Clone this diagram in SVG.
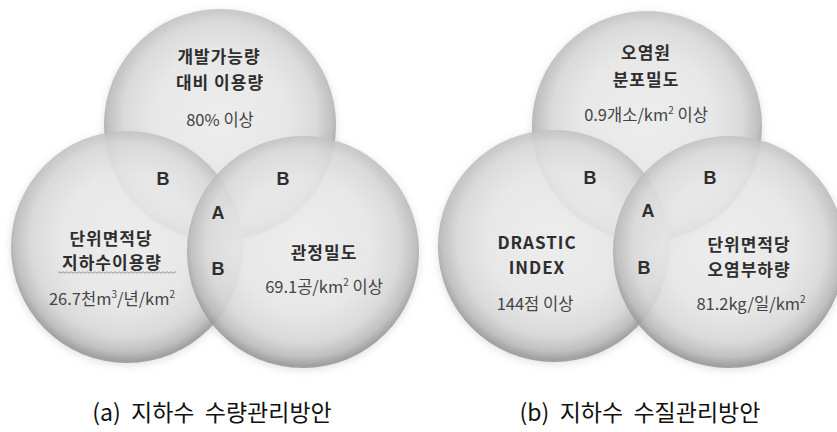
<svg xmlns="http://www.w3.org/2000/svg" width="837" height="432" viewBox="0 0 837 432">
<style>
.lbl{font-family:"Noto Sans CJK KR","Noto Sans",sans-serif;font-weight:bold;font-size:17px;fill:#2e2e2e;text-anchor:middle;letter-spacing:1px}
.val{font-family:"Noto Sans CJK KR","Noto Sans",sans-serif;font-size:16.5px;fill:#444;text-anchor:middle}
.reg{font-family:"Liberation Sans",Arial,sans-serif;font-weight:bold;font-size:18px;fill:#2e2e2e;text-anchor:middle}
.cap{font-family:"Noto Sans CJK KR","Noto Sans",sans-serif;font-size:23px;fill:#111;text-anchor:middle;white-space:pre}
.ball{fill:url(#sphere);opacity:0.86}
.shadow{fill:#999;opacity:0.3;filter:url(#blur)}
</style>
<defs>
<radialGradient id="sphere" cx="50%" cy="47%" r="52%">
<stop offset="0" stop-color="#efefef"/>
<stop offset="0.55" stop-color="#e9e9e9"/>
<stop offset="0.8" stop-color="#d9d9d9"/>
<stop offset="0.93" stop-color="#bbbbbb"/>
<stop offset="1" stop-color="#969696"/>
</radialGradient>
<filter id="blur" x="-20%" y="-20%" width="140%" height="140%"><feGaussianBlur stdDeviation="4"/></filter>
</defs>
<rect width="837" height="432" fill="#fff"/>
<g id="shadows">
<circle class="shadow" cx="220" cy="127" r="116"/>
<circle class="shadow" cx="127" cy="249" r="116"/>
<circle class="shadow" cx="303" cy="254" r="116"/>
<circle class="shadow" cx="647" cy="128" r="115"/>
<circle class="shadow" cx="554" cy="248" r="116"/>
<circle class="shadow" cx="729" cy="254" r="116"/>
</g>
<g id="diagram-a">
<g id="a-top">
<circle class="ball" cx="220" cy="125" r="116"/>
</g>
<g id="a-left">
<circle class="ball" cx="127" cy="247" r="116"/>
</g>
<g id="a-right">
<circle class="ball" cx="303" cy="252" r="116"/>
</g>
<g id="a-top-text">
<text class="lbl" x="219" y="63">개발가능량</text>
<text class="lbl" x="220" y="89">대비 이용량</text>
<text class="val" x="220" y="126">80% 이상</text>
</g>
<g id="a-left-text">
<text class="lbl" x="111" y="245">단위면적당</text>
<text class="lbl" x="112" y="269">지하수이용량</text>
<path d="M58 272.5 q1 -1.5 2 0 t2 0 t2 0 t2 0 t2 0 t2 0 t2 0 t2 0 t2 0 t2 0 t2 0 t2 0 t2 0 t2 0 t2 0 t2 0 t2 0 t2 0 t2 0 t2 0 t2 0 t2 0 t2 0 t2 0 t2 0 t2 0 t2 0 t2 0 t2 0 t2 0 t2 0 t2 0 t2 0 t2 0 t2 0 t2 0 t2 0 t2 0 t2 0 t2 0 t2 0 t2 0 t2 0 t2 0 t2 0 t2 0 t2 0 t2 0 t2 0 t2 0 t2 0 t2 0 t2 0 t2 0 t2 0 t2 0 t2 0 t2 0 t2 0" fill="none" stroke="#8a8a8a" stroke-width="0.9"/>
<text class="val" x="112" y="305">26.7천m<tspan font-size="10" dy="-7">3</tspan><tspan dy="7">/년/km</tspan><tspan font-size="10" dy="-7">2</tspan></text>
</g>
<g id="a-right-text">
<text class="lbl" x="324" y="259">관정밀도</text>
<text class="val" x="324" y="293">69.1공/km<tspan font-size="10" dy="-7">2</tspan><tspan dy="7"> 이상</tspan></text>
</g>
<g id="a-regions">
<text class="reg" x="163" y="184.5">B</text>
<text class="reg" x="283" y="184.5">B</text>
<text class="reg" x="218" y="218.5">A</text>
<text class="reg" x="218" y="274.5">B</text>
</g>
</g>
<g id="diagram-b">
<g id="b-top">
<circle class="ball" cx="647" cy="126" r="115"/>
</g>
<g id="b-left">
<circle class="ball" cx="554" cy="246" r="116"/>
</g>
<g id="b-right">
<circle class="ball" cx="729" cy="252" r="116"/>
</g>
<g id="b-top-text">
<text class="lbl" x="646" y="59">오염원</text>
<text class="lbl" x="646" y="86">분포밀도</text>
<text class="val" x="646" y="121">0.9개소/km<tspan font-size="10" dy="-7">2</tspan><tspan dy="7"> 이상</tspan></text>
</g>
<g id="b-left-text">
<text class="lbl" x="537" y="249">DRASTIC</text>
<text class="lbl" x="537" y="274">INDEX</text>
<text class="val" x="535" y="310">144점 이상</text>
</g>
<g id="b-right-text">
<text class="lbl" x="749" y="251">단위면적당</text>
<text class="lbl" x="749" y="276">오염부하량</text>
<text class="val" x="751" y="310">81.2kg/일/km<tspan font-size="10" dy="-7">2</tspan></text>
</g>
<g id="b-regions">
<text class="reg" x="590" y="183.5">B</text>
<text class="reg" x="710" y="183.5">B</text>
<text class="reg" x="648" y="216.5">A</text>
<text class="reg" x="644" y="273.5">B</text>
</g>
</g>
<g id="captions">
<text class="cap" x="212" y="421">(a)  지하수  수량관리방안</text>
<text class="cap" x="640" y="421">(b)  지하수  수질관리방안</text>
</g>
</svg>
